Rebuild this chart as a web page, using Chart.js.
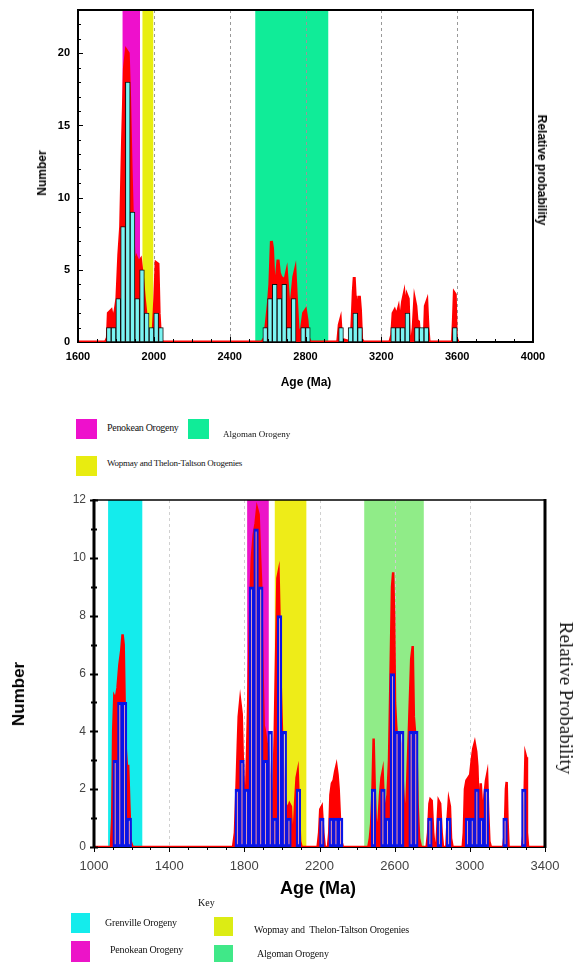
<!DOCTYPE html>
<html>
<head>
<meta charset="utf-8">
<script src="https://cdn.jsdelivr.net/npm/chart.js@4.4.0/dist/chart.umd.min.js"></script>
<style>
  body { margin: 0; background: #fff; width: 579px; height: 962px; position: relative; overflow: hidden;
         font-family: "Liberation Sans", Arial, sans-serif; }
  canvas { position: absolute; left: 0; }
  #topChart { top: 0; }
  #botChart { top: 480px; }
  .t { position: absolute; white-space: nowrap; transform: translateY(-50%); }
  .c { position: absolute; white-space: nowrap; transform: translate(-50%, -50%); }
  .rl { position: absolute; white-space: nowrap; transform: translate(-50%, -50%) rotate(-90deg); }
  .rr { position: absolute; white-space: nowrap; transform: translate(-50%, -50%) rotate(90deg); }
  .serif { font-family: "Liberation Serif", "Times New Roman", serif; color: #111; }
  .sq { position: absolute; }
</style>
</head>
<body>
<canvas id="topChart" width="579" height="400"></canvas>
<canvas id="botChart" width="579" height="430"></canvas>

<!-- top panel titles -->
<div class="rl" style="left:42px; top:173px; font-weight:bold; font-size:12px;">Number</div>
<div class="rr" style="left:542px; top:170px; font-weight:bold; font-size:12px;">Relative probability</div>
<div class="c" style="left:306px; top:382px; font-weight:bold; font-size:12px;">Age (Ma)</div>

<!-- top legend -->
<div class="sq" style="left:76px; top:419px; width:21px; height:20px; background:#ee10cc;"></div>
<div class="t serif" style="left:107px; top:427px; font-size:10px; letter-spacing:-0.3px;">Penokean Orogeny</div>
<div class="sq" style="left:188px; top:419px; width:21px; height:20px; background:#10ec98;"></div>
<div class="t serif" style="left:223px; top:434px; font-size:9px; letter-spacing:0px;">Algoman Orogeny</div>
<div class="sq" style="left:76px; top:456px; width:21px; height:20px; background:#e8ec10;"></div>
<div class="t serif" style="left:107px; top:463px; font-size:9px; letter-spacing:-0.25px;">Wopmay and Thelon-Taltson Orogenies</div>

<!-- bottom panel titles -->
<div class="rl" style="left:19px; top:694px; font-weight:bold; font-size:17px;">Number</div>
<div class="rr serif" style="left:566px; top:698px; font-size:19px;">Relative Probability</div>
<div class="c" style="left:318px; top:888px; font-weight:bold; font-size:18px;">Age (Ma)</div>

<!-- bottom key -->
<div class="t serif" style="left:198px; top:902px; font-size:10px;">Key</div>
<div class="sq" style="left:71px; top:913px; width:19px; height:20px; background:#14ecec;"></div>
<div class="t serif" style="left:105px; top:922px; font-size:10px; letter-spacing:-0.2px;">Grenville Orogeny</div>
<div class="sq" style="left:71px; top:941px; width:19px; height:21px; background:#ec14c8;"></div>
<div class="t serif" style="left:110px; top:949px; font-size:10px; letter-spacing:-0.2px;">Penokean Orogeny</div>
<div class="sq" style="left:214px; top:917px; width:19px; height:19px; background:#dcec14;"></div>
<div class="t serif" style="left:254px; top:929px; font-size:10px; letter-spacing:-0.2px;">Wopmay and&nbsp; Thelon-Taltson Orogenies</div>
<div class="sq" style="left:214px; top:945px; width:19px; height:18px; background:#40e888;"></div>
<div class="t serif" style="left:257px; top:953px; font-size:10px; letter-spacing:-0.2px;">Algoman Orogeny</div>

<script>
// ---- top panel data ----
const topBinWidth = 25;
const topBinStart = [1750, 1775, 1800, 1825, 1850, 1875, 1900, 1925, 1950, 1975, 2000, 2025,
  2575, 2600, 2625, 2650, 2675, 2700, 2725, 2775, 2800,
  2975, 3025, 3050, 3075, 3250, 3275, 3300, 3325, 3375, 3400, 3425, 3575];
const topCounts = [1, 1, 3, 8, 18, 9, 3, 5, 2, 1, 2, 1,
  1, 3, 4, 3, 4, 1, 3, 1, 1,
  1, 1, 2, 1, 1, 1, 1, 2, 1, 1, 1, 1];

const topProbAge = [1600, 1745, 1755, 1760, 1775, 1785, 1795, 1805, 1815, 1825, 1835, 1845, 1855, 1865, 1872,
  1880, 1888, 1895, 1902, 1910, 1920, 1930, 1940, 1950, 1958, 1966, 1975, 1995, 2005, 2012, 2022, 2028, 2035, 2045,
  2570, 2585, 2595, 2605, 2612, 2620, 2626, 2632, 2645, 2655, 2662, 2670, 2680, 2690, 2700, 2710, 2718, 2727,
  2738, 2745, 2752, 2760, 2770, 2780, 2790, 2800, 2808, 2815, 2825,
  2970, 2978, 2984, 2990, 3040, 3046, 3052, 3057, 3062, 3066, 3072, 3078, 3084, 3090, 3096, 3105,
  3245, 3255, 3262, 3270, 3280, 3290, 3298, 3305, 3312, 3320, 3328, 3336, 3342, 3348, 3360, 3368, 3376, 3382,
  3388, 3396, 3404, 3426, 3432, 3440, 3446, 3452,
  3575, 3580, 3585, 3590, 3595, 3605];
const topProbVal = [0, 0, 0.3, 2, 2.2, 1.5, 2.1, 3, 6, 8, 14, 19, 20.2, 20, 17,
  12, 8, 6, 5.2, 5.8, 5.5, 5.7, 4.5, 3, 2, 1, 0.3, 0.3, 3, 5.5, 5.4, 2, 0.3, 0,
  0, 0.3, 1.5, 2.8, 4, 7, 6.5, 4.6, 4.2, 5.7, 4.8, 4.5, 4.4, 4.2, 4.8, 3, 1.5, 3,
  4.5, 4.9, 3, 1, 0.3, 1, 2, 2.2, 1.5, 0.3, 0,
  0, 1.2, 1.5, 0.2, 0, 1.5, 3.5, 4.5, 3.2, 1, 0.8, 2.5, 3.2, 2.2, 0.2, 0,
  0, 0.5, 2, 2.2, 1.8, 2.3, 1.2, 2, 2.8, 3.3, 2, 3.2, 3, 0.3, 0, 1, 2.9, 2.5,
  1.5, 1.4, 0, 0, 2.5, 2.8, 1, 0,
  0, 1.5, 3.4, 3.3, 0.3, 0];

const topBandFrom = [1835, 1940, 2535];
const topBandTo = [1927, 1997, 2920];

// ---- bottom panel data ----
const botBinWidth = 25;
const botBinStart = [1100, 1125, 1150, 1175,
  1750, 1775, 1800, 1825, 1850, 1875, 1900, 1925, 1950, 1975, 2000, 2025, 2075,
  2200, 2250, 2275, 2300,
  2475, 2525, 2550, 2575, 2600, 2625, 2675, 2700,
  2775, 2825, 2875,
  2975, 3000, 3025, 3050, 3075, 3175, 3275];
const botCounts = [3, 5, 5, 1,
  2, 3, 2, 9, 11, 9, 3, 4, 1, 8, 4, 1, 2,
  1, 1, 1, 1,
  2, 2, 1, 6, 4, 4, 4, 4,
  1, 1, 1,
  1, 1, 2, 1, 2, 1, 2];

const botProbAge = [1000, 1090, 1097, 1102, 1108, 1115, 1125, 1135, 1145, 1152, 1158, 1163, 1168, 1175, 1182, 1188, 1195, 1205,
  1740, 1750, 1758, 1765, 1770, 1778, 1786, 1792, 1798, 1804, 1810, 1817, 1824, 1832, 1840, 1850, 1860, 1868, 1876, 1884,
  1890, 1897, 1903, 1910, 1918, 1925, 1932, 1940, 1948, 1955, 1962, 1970, 1976, 1982, 1987, 1992, 1998, 2005, 2012, 2020,
  2030, 2040, 2048, 2055, 2062, 2070, 2078, 2084, 2090, 2097, 2105,
  2190, 2198, 2204, 2212, 2220, 2228, 2245, 2252, 2258, 2266, 2275, 2283, 2290, 2296, 2302, 2310, 2316, 2325,
  2460, 2468, 2475, 2482, 2488, 2494, 2500, 2508, 2515, 2522, 2530, 2536, 2542, 2548, 2555, 2562, 2570, 2578, 2586, 2592,
  2597, 2602, 2608, 2615, 2625, 2635, 2645, 2652, 2660, 2668, 2678, 2688, 2696, 2702, 2708, 2715, 2722, 2730, 2740,
  2770, 2778, 2785, 2790, 2797, 2805, 2812, 2822, 2828, 2834, 2842, 2850, 2857, 2875, 2882, 2888, 2894, 2900, 2908,
  2962, 2968, 2974, 2982, 2992, 3002, 3010, 3018, 3026, 3034, 3040, 3046, 3052, 3058, 3064, 3070, 3078, 3086, 3092, 3098, 3104, 3112,
  3178, 3186, 3192, 3196, 3200, 3206,
  3278, 3286, 3292, 3296, 3300, 3304, 3310, 3400];
const botProbVal = [0, 0, 1, 4, 5.2, 5.1, 5.5, 6.3, 6.8, 7.35, 7, 5, 3.5, 2.8, 2.8, 1.5, 0.2, 0,
  0, 0.5, 2, 3.5, 4.5, 5.05, 4.6, 3, 2, 1.5, 2, 4, 6, 8.5, 10, 10.8, 11.2, 11.7, 11.5, 10,
  9, 6, 4.2, 4, 3.6, 3.5, 2.8, 2, 1.5, 2, 4, 7, 9.3, 9.5, 8, 6, 4.5, 3, 2, 1.5,
  1.3, 1.5, 1.4, 0.3, 0.3, 1.5, 2.4, 2.6, 1.5, 0.2, 0,
  0, 0.5, 1.3, 1.4, 0.5, 0, 0, 0.5, 1.8, 2.2, 2.3, 2.6, 2.8, 2.5, 2, 0.8, 0.2, 0,
  0, 0.3, 0.8, 2, 3.75, 2, 0.8, 0.5, 1, 1.8, 2.4, 2.6, 1.5, 0.8, 1.5, 1.8, 3, 6, 9, 9.5,
  8, 5, 4.2, 3.5, 3.8, 3.5, 2, 1.2, 1, 2.5, 4.5, 6.5, 6.95, 4.5, 4, 3.8, 1.5, 0.3, 0,
  0, 0.5, 1.5, 1.65, 1.6, 0.5, 0, 0, 0.8, 1.6, 1.5, 0.5, 0, 0, 1, 1.6, 1.4, 0.3, 0,
  0, 0.5, 2, 2.3, 2.4, 2.5, 3, 3.4, 3.6, 3.3, 2.8, 1.5, 1, 2.2, 1.5, 1, 1.8, 2.3, 2.5, 1.2, 0.2, 0,
  0, 0.5, 2, 2.25, 1, 0,
  0, 0.5, 2, 3.2, 3.1, 0.5, 0, 0];

const botBandFrom = [1075, 1815, 1962, 2438];
const botBandTo = [1257, 1930, 2130, 2755];

// bands, dashed grid, frame and small tick marks
function decor(cfg) {
  return {
    id: 'decor',
    beforeDatasetsDraw(chart) {
      const { ctx, chartArea: a } = chart;
      const x = chart.scales.x;
      ctx.save();
      cfg.bandFrom.forEach((from, i) => {
        const x1 = x.getPixelForValue(from);
        const x2 = x.getPixelForValue(cfg.bandTo[i]);
        ctx.fillStyle = cfg.bandColors[i];
        ctx.fillRect(x1, a.top, x2 - x1, a.bottom - a.top);
      });
      ctx.strokeStyle = cfg.gridColor;
      ctx.lineWidth = 1;
      ctx.setLineDash([3, 3]);
      x.ticks.forEach(t => {
        if (t.value <= x.min || t.value >= x.max) return;
        const px = Math.round(x.getPixelForValue(t.value)) + 0.5;
        ctx.beginPath();
        ctx.moveTo(px, a.top);
        ctx.lineTo(px, a.bottom);
        ctx.stroke();
      });
      ctx.setLineDash([]);
      ctx.strokeStyle = '#000';
      ctx.lineWidth = cfg.baseWidth;
      ctx.beginPath();
      ctx.moveTo(a.left, a.bottom);
      ctx.lineTo(a.right, a.bottom);
      ctx.stroke();
      ctx.restore();
    },
    afterDatasetsDraw(chart) {
      const { ctx, chartArea: a } = chart;
      const x = chart.scales.x, y = chart.scales.y;
      ctx.save();
      ctx.strokeStyle = '#000';
      ctx.lineWidth = 1;
      for (let v = x.min; v <= x.max; v += cfg.xMinor) {
        const px = Math.round(x.getPixelForValue(v)) + 0.5;
        const len = (v - x.min) % cfg.xMajor === 0 ? cfg.xTickMajor : cfg.xTickMinor;
        ctx.beginPath();
        ctx.moveTo(px, a.bottom);
        ctx.lineTo(px, a.bottom + cfg.xTickDir * len);
        ctx.stroke();
      }
      ctx.lineWidth = cfg.yTickWidth;
      for (let v = y.min; v <= y.max; v += 1) {
        const py = Math.round(y.getPixelForValue(v)) + 0.5;
        const len = v % cfg.yMajor === 0 ? cfg.yTickMajor : cfg.yTickMinor;
        ctx.beginPath();
        ctx.moveTo(a.left - cfg.yTickOut * len, py);
        ctx.lineTo(a.left + cfg.yTickIn * len, py);
        ctx.stroke();
      }
      ctx.lineWidth = cfg.topWidth;
      ctx.beginPath();
      ctx.moveTo(a.left, a.top);
      ctx.lineTo(a.right, a.top);
      ctx.stroke();
      ctx.lineWidth = cfg.sideWidth;
      ctx.beginPath();
      ctx.moveTo(a.left, a.top - 1);
      ctx.lineTo(a.left, a.bottom + 1);
      ctx.moveTo(a.right, a.top - 1);
      ctx.lineTo(a.right, a.bottom + 1);
      ctx.stroke();
      ctx.restore();
    }
  };
}

function makeChart(id, o) {
  const bars = o.binStart.map((b, i) => ({ x: b + o.binWidth / 2, y: o.counts[i] }));
  const prob = o.probAge.map((a, i) => ({ x: a, y: o.probVal[i] }));
  return new Chart(document.getElementById(id), {
    type: 'bar',
    data: {
      datasets: [{
        type: 'bar',
        label: 'Number',
        data: bars,
        backgroundColor: o.barFill,
        borderColor: o.barLine,
        borderWidth: o.barLineWidth,
        borderSkipped: false,
        barPercentage: 1,
        categoryPercentage: 1,
        order: 1
      }, {
        type: 'line',
        label: 'Relative probability',
        data: prob,
        yAxisID: 'prob',
        borderColor: '#ff0000',
        backgroundColor: '#ff0000',
        borderWidth: o.probWidth,
        fill: 'origin',
        pointRadius: 0,
        tension: 0,
        order: 2
      }]
    },
    options: {
      responsive: false,
      animation: false,
      layout: { padding: o.padding },
      plugins: { legend: { display: false }, tooltip: { enabled: false } },
      scales: {
        x: {
          type: 'linear', min: o.xMin, max: o.xMax, offset: false,
          grid: { display: false, drawTicks: false, offset: false },
          border: { display: false },
          ticks: { stepSize: 400, maxRotation: 0, padding: o.xPad, color: o.tickColor,
                   font: o.xFont, callback: v => String(v) },
          afterFit: s => { s.height = o.xHeight; s.paddingLeft = 0; s.paddingRight = 0; }
        },
        y: {
          min: 0, max: o.yMax,
          grid: { display: false, drawTicks: false },
          border: { display: false },
          ticks: { stepSize: o.yStep, includeBounds: false, padding: o.yPad, color: o.tickColor,
                   font: o.yFont, callback: v => String(v) },
          afterFit: s => { s.width = o.yWidth; s.paddingTop = 0; s.paddingBottom = 0; }
        },
        prob: { display: false, position: 'right', min: 0, max: o.yMax }
      }
    },
    plugins: [decor(o.decor)]
  });
}

makeChart('topChart', {
  binStart: topBinStart, counts: topCounts, binWidth: topBinWidth,
  probAge: topProbAge, probVal: topProbVal,
  barFill: '#7af4f2', barLine: '#111', barLineWidth: 1, probWidth: 3,
  padding: { top: 10, right: 46, left: 0, bottom: 0 },
  xMin: 1600, xMax: 4000, yMax: 23, yStep: 5,
  xHeight: 58, yWidth: 78, xPad: 8, yPad: 8, tickColor: '#000',
  xFont: { family: 'Liberation Sans, Arial', size: 11, weight: 'bold' },
  yFont: { family: 'Liberation Sans, Arial', size: 11, weight: 'bold' },
  decor: {
    bandFrom: topBandFrom, bandTo: topBandTo,
    bandColors: ['#ee10cc', '#e8ee10', '#10ec98'],
    gridColor: '#999', baseWidth: 2,
    xMinor: 100, xMajor: 400, xTickMajor: 5, xTickMinor: 3, xTickDir: -1,
    yMajor: 5, yTickMajor: 5, yTickMinor: 3, yTickIn: 1, yTickOut: 0, yTickWidth: 1,
    topWidth: 2, sideWidth: 2
  }
});

makeChart('botChart', {
  binStart: botBinStart, counts: botCounts, binWidth: botBinWidth,
  probAge: botProbAge, probVal: botProbVal,
  barFill: 'rgba(255,255,255,0.9)', barLine: '#0a14e6', barLineWidth: 3, probWidth: 2.5,
  padding: { top: 20, right: 34, left: 0, bottom: 0 },
  xMin: 1000, xMax: 3400, yMax: 12, yStep: 2,
  xHeight: 63, yWidth: 94, xPad: 12, yPad: 8, tickColor: '#444',
  xFont: { family: 'Liberation Sans, Arial', size: 13 },
  yFont: { family: 'Liberation Sans, Arial', size: 12 },
  decor: {
    bandFrom: botBandFrom, bandTo: botBandTo,
    bandColors: ['#14ecec', '#ec14c8', '#eeec18', '#90ec88'],
    gridColor: '#d0d0d0', baseWidth: 2,
    xMinor: 100, xMajor: 400, xTickMajor: 5, xTickMinor: 3, xTickDir: 1,
    yMajor: 2, yTickMajor: 4, yTickMinor: 3, yTickIn: 1, yTickOut: 1, yTickWidth: 2,
    topWidth: 1.5, sideWidth: 3
  }
});
</script>
</body>
</html>
